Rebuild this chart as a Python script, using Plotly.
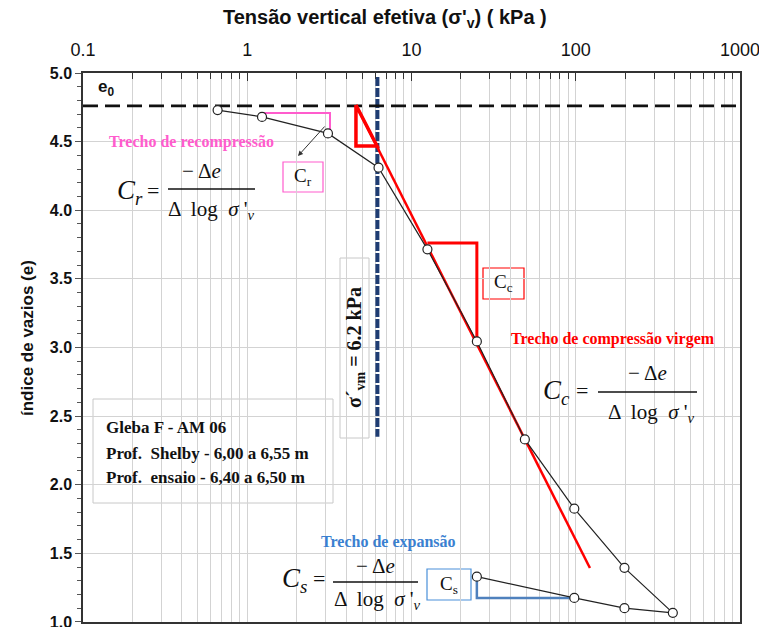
import plotly.graph_objects as go

# ---------------- data ----------------
sigma_load = [0.66, 1.23, 3.1, 6.3, 12.5, 25, 49, 98, 198, 390]
e_load = [4.73, 4.68, 4.56, 4.31, 3.715, 3.044, 2.33, 1.825, 1.394, 1.066]
sigma_unload = [390, 198, 98, 25]
e_unload = [1.066, 1.10, 1.175, 1.33]

e0 = 4.76
sigma_vm = 6.2
sigma_vm_e = [4.97, 2.35]

cc_line_sigma = [4.59, 122]
cc_line_e = [4.767, 1.393]
cc_tri_sigma = [4.59, 4.59, 6.17, 4.59]
cc_tri_e = [4.767, 4.468, 4.468, 4.767]
cc_step_sigma = [12.5, 25, 25]
cc_step_e = [3.761, 3.761, 3.044]

cr_step_sigma = [1.25, 3.19, 3.19]
cr_step_e = [4.709, 4.709, 4.57]

cs_step_sigma = [25, 25, 98]
cs_step_e = [1.33, 1.175, 1.175]

x_tickvals = [0.1, 1, 10, 100, 1000]
x_ticktext = ["0.1", "1", "10", "100", "1000"]
x_minor = [k * 10 ** d for d in (-1, 0, 1, 2) for k in range(2, 10)]
y_tickvals = [1.0, 1.5, 2.0, 2.5, 3.0, 3.5, 4.0, 4.5, 5.0]
y_ticktext = ["<b>%.1f</b>" % v for v in y_tickvals]

# ---------------- layout helpers ----------------
L, R, T, B = 83, 740, 73, 622
W, H = 759, 627


def px(x):
    return (x - L) / (R - L)


def py(y):
    return (B - y) / (B - T)


SERIF = "Liberation Serif, Times New Roman, serif"
SANS = "Liberation Sans, Arial, sans-serif"
PINK = "#FF5CCD"
RED = "#FF0000"
BLUE = "#3A80D0"

fig = go.Figure()

fig.add_trace(go.Scatter(x=[sigma_vm, sigma_vm], y=sigma_vm_e, mode="lines",
                         line=dict(color="#1F3D73", width=4, dash="9px,2px"),
                         hoverinfo="skip"))
fig.add_trace(go.Scatter(x=[0.1, 1000], y=[e0, e0], mode="lines",
                         line=dict(color="#111111", width=2.8, dash="15px,7px"),
                         hoverinfo="skip"))
fig.add_trace(go.Scatter(x=cc_line_sigma, y=cc_line_e, mode="lines",
                         line=dict(color=RED, width=2.5), hoverinfo="skip"))
fig.add_trace(go.Scatter(x=cc_tri_sigma, y=cc_tri_e, mode="lines",
                         line=dict(color=RED, width=3.5), hoverinfo="skip"))
fig.add_trace(go.Scatter(x=cc_step_sigma, y=cc_step_e, mode="lines",
                         line=dict(color=RED, width=3), hoverinfo="skip"))
fig.add_trace(go.Scatter(x=cr_step_sigma, y=cr_step_e, mode="lines",
                         line=dict(color=PINK, width=2), hoverinfo="skip"))
fig.add_trace(go.Scatter(x=cs_step_sigma, y=cs_step_e, mode="lines",
                         line=dict(color="#4F81BD", width=2.5), hoverinfo="skip"))
fig.add_trace(go.Scatter(x=sigma_load + sigma_unload[1:], y=e_load + e_unload[1:],
                         mode="lines+markers",
                         line=dict(color="#222222", width=1.2),
                         marker=dict(symbol="circle", size=9, color="white",
                                     line=dict(color="#222222", width=1.2)),
                         hoverinfo="skip"))

shapes = []


def rect(x0, y0, x1, y1, line_color=None, lw=1, fill="white", layer="between"):
    shapes.append(dict(type="rect", xref="paper", yref="paper",
                       x0=px(x0), x1=px(x1), y0=py(y1), y1=py(y0),
                       fillcolor=fill, layer=layer,
                       line=dict(color=line_color or "rgba(0,0,0,0)", width=lw)))


def hbar(x0, x1, y, color="#111111", lw=1.3):
    shapes.append(dict(type="line", xref="paper", yref="paper",
                       x0=px(x0), x1=px(x1), y0=py(y), y1=py(y),
                       line=dict(color=color, width=lw), layer="above"))


rect(98, 108, 270, 232)
rect(493, 313, 732, 440)
rect(283, 518, 482, 621)
rect(93, 399, 333, 503, "#C8C8C8", 1)
rect(340, 258, 369, 438, "#C8C8C8", 1)
rect(283, 162, 323, 192, PINK, 1.2)
rect(483, 268, 524, 299, RED, 1.2)
rect(427, 569, 471, 600, "#4A90D9", 1.2)
hbar(168, 255, 189)
hbar(598, 697, 392)
hbar(333, 418, 582)

ann = []


def text(x, y, s, size=16, color="#111111", family=SERIF, xanchor="center", angle=0):
    ann.append(dict(xref="paper", yref="paper", x=px(x), y=py(y), text=s,
                    showarrow=False, xanchor=xanchor, yanchor="middle",
                    textangle=angle,
                    font=dict(size=size, color=color, family=family)))


# axis titles as text
text(385, 19, "<b>Tensão vertical efetiva (σ'<sub>v</sub>) ( kPa )</b>", 20, family=SANS)
text(27, 338, "<b>índice de vazios (e)</b>", 17, family=SANS, angle=-90)

text(96, 88, "<b>e<sub>0</sub></b>", 17, family=SANS, xanchor="left")
text(191, 142, "<b>Trecho de recompressão</b>", 16, PINK)
text(613, 339, "<b>Trecho de compressão virgem</b>", 16, RED)
text(388, 542, "<b>Trecho de expansão</b>", 16, BLUE)

for (cx, cy, sub, eqx, nx, ny, dx, dy) in [
    (130, 192, "r", 153, 201, 171, 211, 210),
    (556, 392, "c", 582, 647, 373, 651, 413),
    (294, 580, "s", 319, 375, 566, 377, 600),
]:
    text(cx, cy, "<i>C</i><sub><i>%s</i></sub>" % sub, 27)
    text(eqx, cy - 2, "=", 22)
    text(nx, ny, "− Δ<i>e</i>", 21)
    text(dx, dy, "Δ  log  <i>σ</i> '<sub><i>v</i></sub>", 21)

text(303, 177, "C<sub>r</sub>", 19)
text(503, 283, "C<sub>c</sub>", 19)
text(449, 585, "C<sub>s</sub>", 19)

text(104, 427, "<b>Gleba F - AM 06</b>", 17, xanchor="left")
text(104, 453, "<b>Prof.  Shelby - 6,00 a 6,55 m</b>", 17, xanchor="left")
text(104, 478, "<b>Prof.  ensaio - 6,40 a 6,50 m</b>", 17, xanchor="left")

text(355, 348, "<b>σ´<sub>vm</sub> = 6.2 kPa</b>", 20, angle=-90)

ann.append(dict(xref="paper", yref="paper", x=px(298), y=py(156), text="",
                showarrow=True, ax=28, ay=-31, arrowhead=2, arrowsize=1,
                arrowwidth=1, arrowcolor="#333333"))

fig.update_layout(
    width=W, height=H,
    margin=dict(l=L, r=W - R, t=T, b=H - B, pad=0, autoexpand=False),
    paper_bgcolor="white", plot_bgcolor="white",
    showlegend=False,
    shapes=shapes, annotations=ann,
    xaxis=dict(
        type="log", side="top", range=[-1, 3], automargin=False,
        tickmode="array", tickvals=x_tickvals, ticktext=x_ticktext,
        ticks="inside", ticklen=8, tickcolor="#333333", tickwidth=1,
        showgrid=True, gridcolor="#D3D3D3", gridwidth=1,
        minor=dict(tickmode="array", tickvals=x_minor, ticks="inside", ticklen=6,
                   tickcolor="#333333", showgrid=True, gridcolor="#D3D3D3",
                   gridwidth=1),
        showline=True, mirror=True, linecolor="#333333", linewidth=1.5,
        tickfont=dict(family=SANS, size=18, color="#111111"),
        ticklabelstandoff=8, ticklabeloverflow="allow",
        zeroline=False,
    ),
    yaxis=dict(
        range=[0.9995, 5], automargin=False,
        tickmode="array", tickvals=y_tickvals, ticktext=y_ticktext,
        ticks="outside", ticklen=6, tickcolor="#555555",
        showgrid=True, gridcolor="#D3D3D3", gridwidth=1,
        minor=dict(dtick=0.1, ticks="outside", ticklen=4, tickcolor="#555555",
                   showgrid=False),
        showline=True, mirror=True, linecolor="#333333", linewidth=1.5,
        tickfont=dict(family=SANS, size=16, color="#111111"),
        ticklabeloverflow="allow",
        zeroline=False,
    ),
)

fig.write_html("out.html")
